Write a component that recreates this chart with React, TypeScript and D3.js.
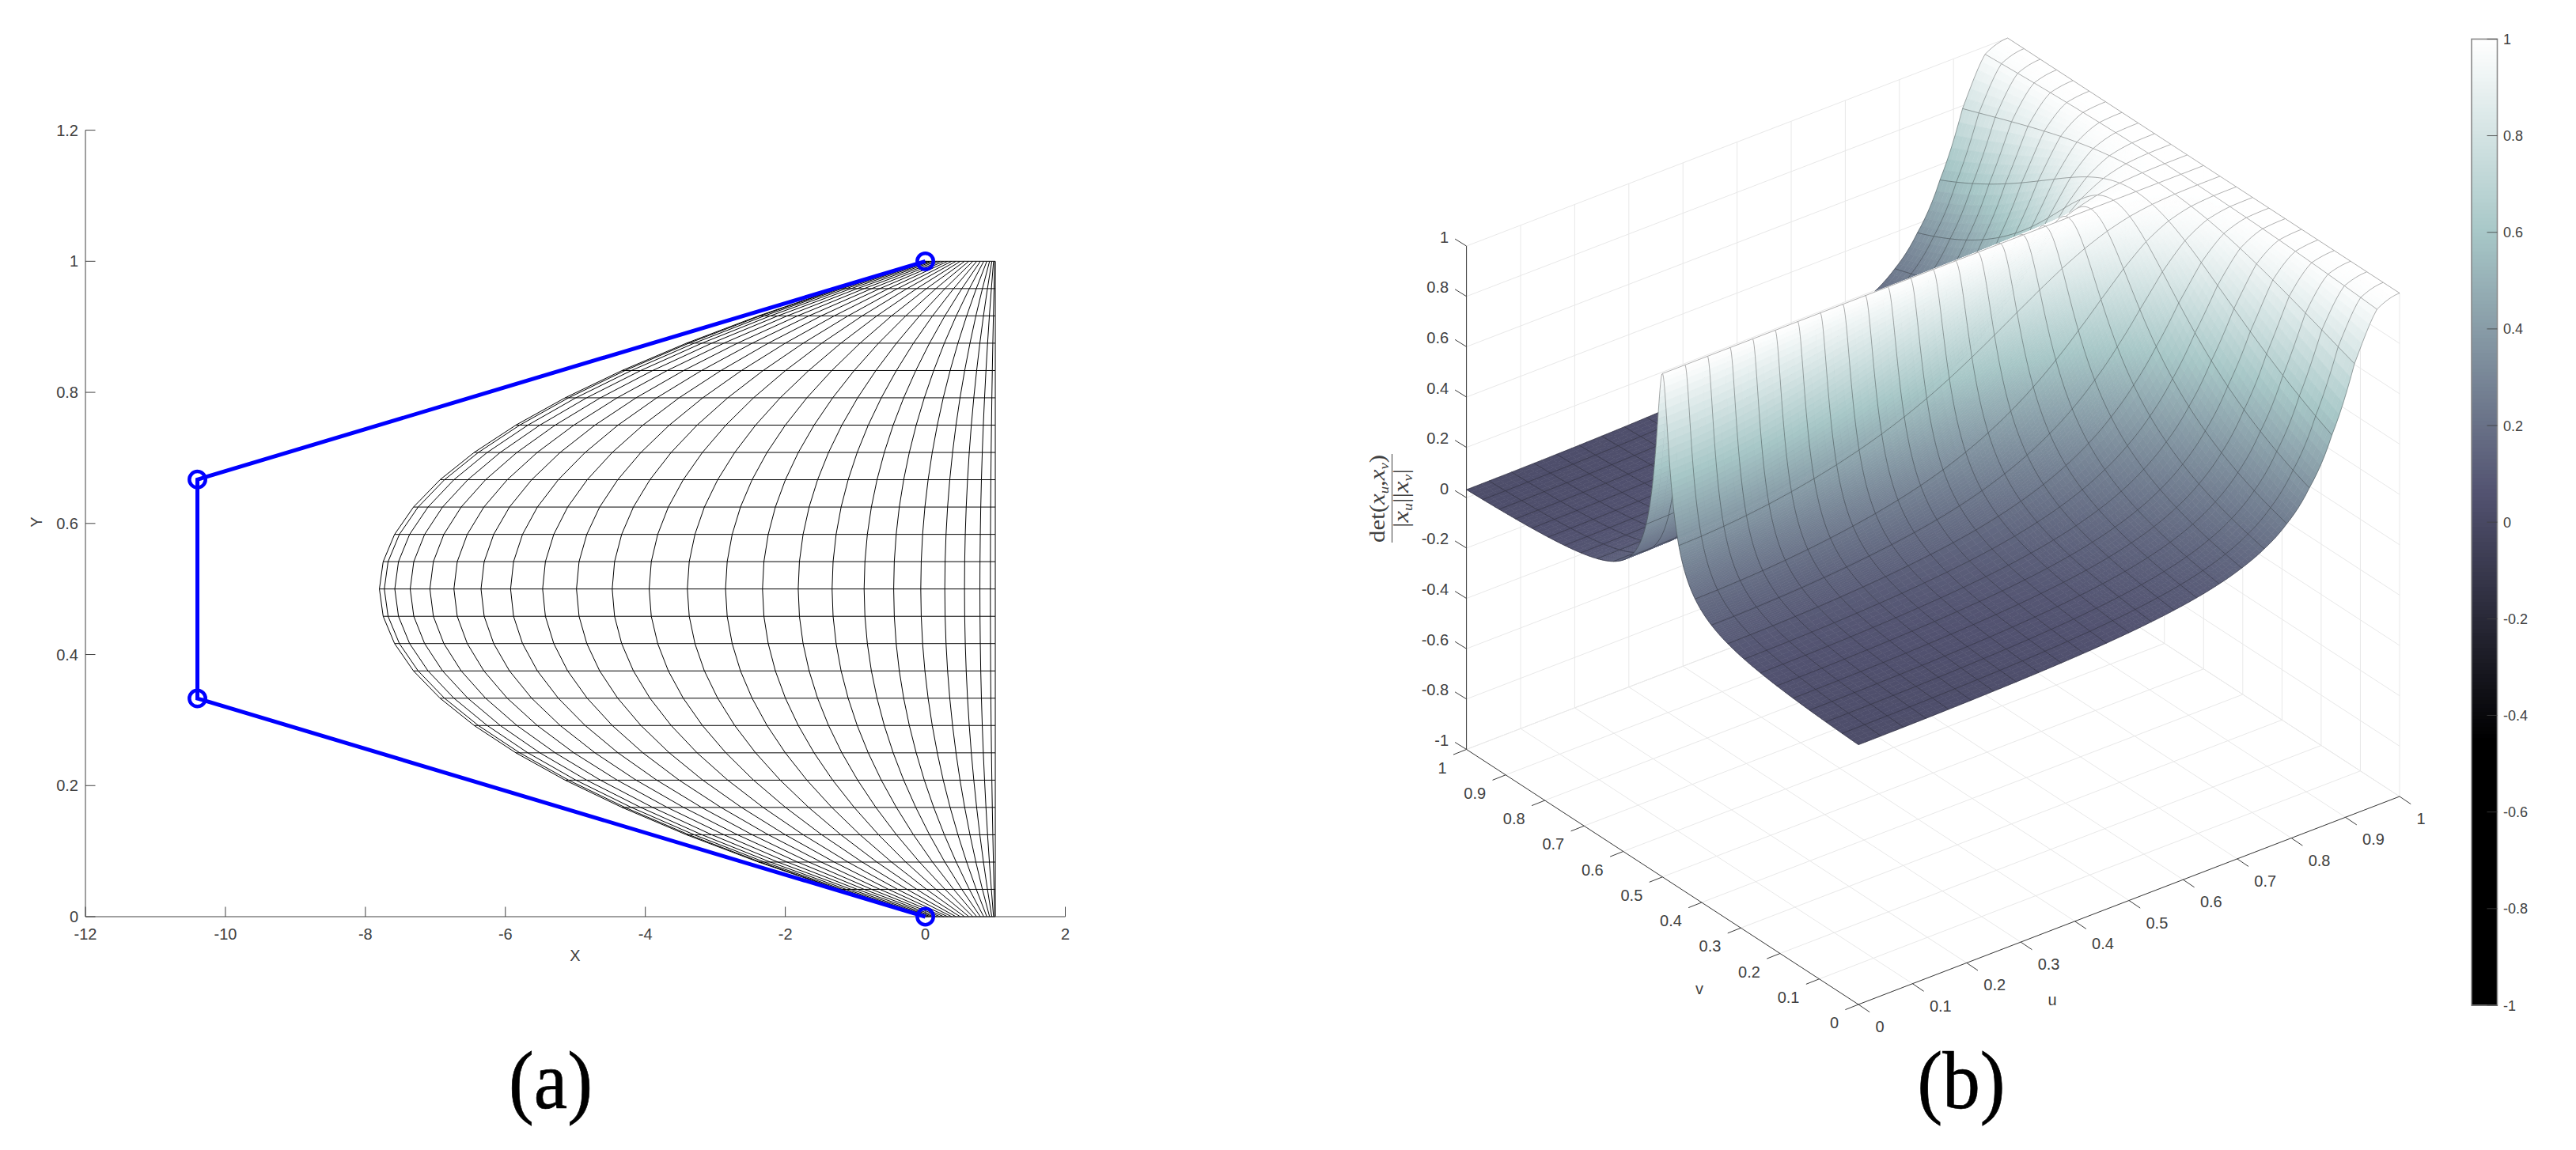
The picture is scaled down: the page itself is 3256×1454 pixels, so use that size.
import React, { useMemo } from "react";
import * as d3 from "d3";

// ---------- values ----------
const xTicks = [-12, -10, -8, -6, -4, -2, 0, 2];
const yTicks = [0, 0.2, 0.4, 0.6, 0.8, 1, 1.2];
const controlX = [0, -10.4, -10.4, 0];
const controlY = [1, 0.667, 0.333, 0];

// mesh rows (y = v) and the x of the left boundary at each row
const meshV = [0, 0.0417, 0.0833, 0.125, 0.1667, 0.2083, 0.25, 0.2917, 0.3333, 0.375, 0.4167, 0.4583, 0.5, 0.5417, 0.5833, 0.625, 0.6667, 0.7083, 0.75, 0.7917, 0.8333, 0.875, 0.9167, 0.9583, 1];
const leftBoundary = [0, -1.245, -2.383, -3.413, -4.333, -5.146, -5.85, -6.446, -6.933, -7.313, -7.583, -7.746, -7.8, -7.746, -7.583, -7.313, -6.933, -6.446, -5.85, -5.146, -4.333, -3.413, -2.383, -1.245, 0];
// mesh columns: fraction of the way from the left boundary to x = 1
const meshU = meshV;
const columnBlend = [0, 0.008, 0.025, 0.05, 0.082, 0.121, 0.165, 0.213, 0.265, 0.32, 0.378, 0.438, 0.5, 0.562, 0.622, 0.68, 0.735, 0.787, 0.835, 0.879, 0.918, 0.95, 0.975, 0.992, 1];
// dx/dv of the left boundary at each mesh row
const boundarySlope = [31.2, 28.6, 26, 23.4, 20.8, 18.2, 15.6, 13, 10.4, 7.8, 5.2, 2.6, 0, -2.6, -5.2, -7.8, -10.4, -13, -15.6, -18.2, -20.8, -23.4, -26, -28.6, -31.2];

const uvTicks = [0, 0.1, 0.2, 0.3, 0.4, 0.5, 0.6, 0.7, 0.8, 0.9, 1];
const zTicks = [-1, -0.8, -0.6, -0.4, -0.2, 0, 0.2, 0.4, 0.6, 0.8, 1];

const colorStops = [-1, -0.45, 0.06, 0.6, 1];
const colorValues = ["#000000", "#000000", "#525270", "#a7c7c7", "#ffffff"];

const TEXT = "#404040";
const FONT = "'Liberation Sans', Arial, sans-serif";

// ---------- scales ----------
const x2d = d3.scaleLinear().domain([-12, 2]).range([108, 1346.5]);
const y2d = d3.scaleLinear().domain([0, 1.2]).range([1159, 164.6]);
const mesh2d = d3.line<[number, number]>().x((d) => x2d(d[0])).y((d) => y2d(d[1]));

const uX = d3.scaleLinear().domain([0, 1]).range([2349, 3033]);
const uY = d3.scaleLinear().domain([0, 1]).range([1270, 1007]);
const vX = d3.scaleLinear().domain([0, 1]).range([0, -495.4]);
const vY = d3.scaleLinear().domain([0, 1]).range([0, -322.5]);
const zY = d3.scaleLinear().domain([-1, 1]).range([0, -636.4]);
const project = (u: number, v: number, z: number): [number, number] => [uX(u) + vX(v), uY(u) + vY(v) + zY(z)];

const color = d3.scaleLinear<string>().domain(colorStops).range(colorValues).interpolate(d3.interpolateRgb);
const barY = d3.scaleLinear().domain([-1, 1]).range([1271, 49.4]);

const blendAt = d3.scaleLinear().domain(meshU).range(columnBlend);
const slopeAt = d3.scaleLinear().domain(meshV).range(boundarySlope);
// The vertical axis is det(x_u,x_v)/(|x_u||x_v|), taken from the mesh above.
const surfaceZ = (u: number, v: number) => {
  const m = (1 - blendAt(u)) * slopeAt(v);
  return 1 / Math.sqrt(1 + m * m);
};

const sub = (a: number, b: number, n: number) => d3.range(n + 1).map((i) => a + ((b - a) * i) / n);
const vDivisions = (k: number) => (k >= 10 && k <= 13 ? 32 : k >= 8 && k <= 15 ? 12 : 4);
const uDivisions = (k: number) => (k >= 12 ? 6 : 3);
const pts = (p: [number, number][]) => p.map((q) => `${q[0].toFixed(2)},${q[1].toFixed(2)}`).join(" ");
const line3d = d3.line<[number, number]>();

function Surface() {
  const cells = useMemo(() => {
    const out: React.ReactNode[] = [];
    const N = meshU.length - 1;
    for (let iu = N - 1; iu >= 0; iu--) {
      const us = sub(meshU[iu], meshU[iu + 1], uDivisions(iu));
      for (let iv = N - 1; iv >= 0; iv--) {
        const vs = sub(meshV[iv], meshV[iv + 1], vDivisions(iv));
        const polys: React.ReactNode[] = [];
        for (let a = us.length - 2; a >= 0; a--) {
          for (let b = vs.length - 2; b >= 0; b--) {
            const corners: [number, number][] = [[us[a], vs[b]], [us[a + 1], vs[b]], [us[a + 1], vs[b + 1]], [us[a], vs[b + 1]]];
            const zs = corners.map((c) => surfaceZ(c[0], c[1]));
            const fill = color(d3.mean(zs) as number);
            polys.push(
              <polygon key={`${a}-${b}`} fill={fill} stroke={fill} points={pts(corners.map((c, i) => project(c[0], c[1], zs[i])))} />
            );
          }
        }
        const edge = (list: [number, number][]) => line3d(list.map((c) => project(c[0], c[1], surfaceZ(c[0], c[1])))) as string;
        const lines = [
          edge(us.map((u) => [u, meshV[iv + 1]] as [number, number])),
          edge(vs.map((v) => [meshU[iu + 1], v] as [number, number])),
        ];
        if (iv === 0) lines.push(edge(us.map((u) => [u, meshV[0]] as [number, number])));
        if (iu === 0) lines.push(edge(vs.map((v) => [meshU[0], v] as [number, number])));
        out.push(
          <g key={`${iu}-${iv}`}>
            <g strokeWidth={0.6}>{polys}</g>
            <g fill="none" stroke="#000" strokeOpacity={0.45} strokeWidth={0.7}>
              {lines.map((d, i) => (
                <path key={i} d={d} />
              ))}
            </g>
          </g>
        );
      }
    }
    return out;
  }, []);
  return <g>{cells}</g>;
}

function Grid3d() {
  const seg = (a: [number, number], b: [number, number], key: string) => (
    <line key={key} x1={a[0]} y1={a[1]} x2={b[0]} y2={b[1]} />
  );
  return (
    <g stroke="#e8e8e8" strokeWidth={1}>
      {uvTicks.map((t) => seg(project(t, 0, -1), project(t, 1, -1), `fu${t}`))}
      {uvTicks.map((t) => seg(project(0, t, -1), project(1, t, -1), `fv${t}`))}
      {uvTicks.map((t) => seg(project(t, 1, -1), project(t, 1, 1), `wu${t}`))}
      {uvTicks.map((t) => seg(project(1, t, -1), project(1, t, 1), `wv${t}`))}
      {zTicks.map((t) => seg(project(0, 1, t), project(1, 1, t), `zu${t}`))}
      {zTicks.map((t) => seg(project(1, 0, t), project(1, 1, t), `zv${t}`))}
    </g>
  );
}

function Axes3d() {
  const ink = { stroke: "#3a3a3a", strokeWidth: 1 };
  const tick = (p: [number, number], dx: number, dy: number, key: string) => (
    <line key={key} x1={p[0]} y1={p[1]} x2={p[0] + dx} y2={p[1] + dy} {...ink} />
  );
  const z0 = project(0, 1, -1), z1 = project(0, 1, 1), o = project(0, 0, -1), ur = project(1, 0, -1);
  return (
    <g fontFamily={FONT} fontSize={20} fill={TEXT}>
      <line x1={z0[0]} y1={z0[1]} x2={z1[0]} y2={z1[1]} {...ink} />
      <line x1={z0[0]} y1={z0[1]} x2={o[0]} y2={o[1]} {...ink} />
      <line x1={o[0]} y1={o[1]} x2={ur[0]} y2={ur[1]} {...ink} />
      {zTicks.map((t) => {
        const p = project(0, 1, t);
        return (
          <g key={`z${t}`}>
            {tick(p, -14.5, -9, `zt${t}`)}
            <text x={p[0] - 22.5} y={p[1] - 4.5} textAnchor="end">{t}</text>
          </g>
        );
      })}
      {uvTicks.map((t) => {
        const p = project(0, t, -1);
        return (
          <g key={`v${t}`}>
            {tick(p, -16.6, 6.6, `vt${t}`)}
            <text x={p[0] - 25} y={p[1] + 30} textAnchor="end">{t}</text>
          </g>
        );
      })}
      {uvTicks.map((t) => {
        const p = project(t, 0, -1);
        return (
          <g key={`u${t}`}>
            {tick(p, 14.2, 9.6, `ut${t}`)}
            <text x={p[0] + 21.5} y={p[1] + 35} textAnchor="start">{t}</text>
          </g>
        );
      })}
      <text x={2148} y={1257} textAnchor="middle">v</text>
      <text x={2594} y={1271} textAnchor="middle">u</text>
    </g>
  );
}

function ZLabel() {
  const serif = "'Liberation Serif', 'Times New Roman', serif";
  const sb = (s: string) => (
    <>
      <tspan fontStyle="italic">x</tspan>
      <tspan fontStyle="italic" fontSize={17} dy={5}>{s}</tspan>
    </>
  );
  return (
    <g fontFamily={serif} fontSize={28} fill={TEXT}>
      <text transform="translate(1750,686) rotate(-90)" textLength={111} lengthAdjust="spacingAndGlyphs">
        det(
        {sb("u")}
        <tspan dy={-5}>,</tspan>
        {sb("v")}
        <tspan dy={-5}>)</tspan>
      </text>
      <line x1={1759.5} y1={574} x2={1759.5} y2={686} stroke={TEXT} strokeWidth={1} />
      <text transform="translate(1780,667) rotate(-90)" textLength={74} lengthAdjust="spacingAndGlyphs">
        |{sb("u")}
        <tspan dy={-5}>||</tspan>
        {sb("v")}
        <tspan dy={-5}>|</tspan>
      </text>
    </g>
  );
}

function ColorBar() {
  const steps = d3.range(-1, 1, 2 / 256);
  const x0 = 3124, x1 = 3156.5;
  return (
    <g fontFamily={FONT} fontSize={18} fill={TEXT}>
      <g shapeRendering="crispEdges">
        {steps.map((s) => (
          <rect key={s} x={x0} width={x1 - x0} y={barY(s + 2 / 256)} height={barY(s) - barY(s + 2 / 256) + 1} fill={color(s + 1 / 256)} />
        ))}
      </g>
      <rect x={x0} y={barY(1)} width={x1 - x0} height={barY(-1) - barY(1)} fill="none" stroke="#8a8a8a" strokeWidth={1.6} />
      {zTicks.map((t) => (
        <g key={t}>
          <line x1={x1 - 13} x2={x1} y1={barY(t)} y2={barY(t)} stroke="#404040" strokeOpacity={0.8} />
          <text x={3164} y={barY(t) + 6.5}>{t}</text>
        </g>
      ))}
    </g>
  );
}

function Chart2d() {
  const control = controlX.map((x, i) => [x, controlY[i]] as [number, number]);
  const rows = meshV.map((v, k) => columnBlend.map((s) => [(1 - s) * leftBoundary[k] + s, v] as [number, number]));
  const columns = columnBlend.map((s) => meshV.map((v, k) => [(1 - s) * leftBoundary[k] + s, v] as [number, number]));
  return (
    <g fontFamily={FONT} fontSize={20} fill={TEXT}>
      <g fill="none" stroke="#000" strokeWidth={1}>
        {rows.map((r, i) => <path key={`r${i}`} d={mesh2d(r) as string} />)}
        {columns.map((c, i) => <path key={`c${i}`} d={mesh2d(c) as string} />)}
      </g>
      <line x1={x2d(-12)} x2={x2d(2)} y1={y2d(0)} y2={y2d(0)} stroke={TEXT} />
      <line x1={x2d(-12)} x2={x2d(-12)} y1={y2d(0)} y2={y2d(1.2)} stroke={TEXT} />
      {xTicks.map((t) => (
        <g key={t}>
          <line x1={x2d(t)} x2={x2d(t)} y1={y2d(0)} y2={y2d(0) - 12.5} stroke={TEXT} />
          <text x={x2d(t)} y={y2d(0) + 29} textAnchor="middle">{t}</text>
        </g>
      ))}
      {yTicks.map((t) => (
        <g key={t}>
          <line x1={x2d(-12)} x2={x2d(-12) + 12.5} y1={y2d(t)} y2={y2d(t)} stroke={TEXT} />
          <text x={x2d(-12) - 9} y={y2d(t) + 7} textAnchor="end">{t}</text>
        </g>
      ))}
      <text x={727} y={1215} textAnchor="middle">X</text>
      <text transform="translate(53,660) rotate(-90)" textAnchor="middle">Y</text>
      <path d={mesh2d(control) as string} fill="none" stroke="#0000ff" strokeWidth={5} />
      {control.map((d, i) => (
        <circle key={i} cx={x2d(d[0])} cy={y2d(d[1])} r={10.2} fill="none" stroke="#0000ff" strokeWidth={4.5} />
      ))}
    </g>
  );
}

export default function App() {
  return (
    <svg
      width={3256}
      height={1454}
      viewBox="0 0 3256 1454"
      style={{ position: "absolute", left: 0, top: 0, display: "block", background: "#fff" }}
    >
      <Chart2d />
      <Grid3d />
      <Axes3d />
      <Surface />
      <ZLabel />
      <ColorBar />
      <g fontFamily="'Liberation Serif', 'Times New Roman', serif" fontSize={104} fill="#000" stroke="#000" strokeWidth={0.7} textAnchor="middle">
        <text x={696} y={1401} textLength={106} lengthAdjust="spacingAndGlyphs">(a)</text>
        <text x={2479} y={1401} textLength={111} lengthAdjust="spacingAndGlyphs">(b)</text>
      </g>
    </svg>
  );
}
